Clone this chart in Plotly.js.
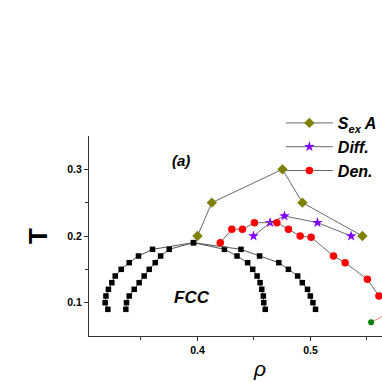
<!DOCTYPE html>
<html><head><meta charset="utf-8">
<script src="https://cdn.plot.ly/plotly-3.0.1.min.js"></script>
<style>html,body{margin:0;padding:0;overflow:hidden;background:#fff;width:382px;height:382px}#c{width:500px;height:382px}</style>
</head><body><div id="c"></div>
<script>
// FCC boundary (two loops sharing the top point)
const fccY = [0.09,0.10,0.11,0.12,0.13,0.14,0.15,0.16,0.17,0.18,0.19,0.18,0.17,0.16,0.15,0.14,0.13,0.12,0.11,0.10,0.09];
const fccOuterX = [0.3207,0.3183,0.3190,0.3212,0.3242,0.3272,0.3325,0.3396,0.3478,0.3602,0.3965,0.4239,0.4350,0.4444,0.4489,0.4528,0.4554,0.4569,0.4583,0.4587,0.4600];
const fccInnerX = [0.3366,0.3372,0.3396,0.3440,0.3484,0.3528,0.3573,0.3626,0.3674,0.3750,0.3965,0.4385,0.4550,0.4720,0.4805,0.4887,0.4928,0.4974,0.4999,0.5022,0.5045];
// S_ex anomaly
const sexX = [0.400,0.4127,0.4752,0.4929,0.546];
const sexY = [0.20,0.25,0.30,0.25,0.20];
// Diffusion anomaly
const diffX = [0.4496,0.4643,0.4770,0.5062,0.5360];
const diffY = [0.20,0.22,0.23,0.22,0.20];
// Density anomaly
const denX = [0.4202,0.4304,0.4398,0.4504,0.4703,0.4805,0.4909,0.5006,0.5204,0.5307,0.5504,0.5606];
const denY = [0.19,0.21,0.21,0.22,0.22,0.21,0.20,0.198,0.17,0.16,0.135,0.11];
// extra series (green point, pink line going off view)
const extraX = [0.5537,0.580];
const extraY = [0.0708,0.093];
const legendNames = ['S<sub>ex</sub> A','Diff.','Den.'];

const gray = '#6a6a6a';
const traces = [
  {x:fccOuterX,y:fccY,mode:'lines+markers',line:{color:'#555',width:1},marker:{symbol:'square',size:5.5,color:'#000'},showlegend:false},
  {x:fccInnerX,y:fccY,mode:'lines+markers',line:{color:'#555',width:1},marker:{symbol:'square',size:5.5,color:'#000'},showlegend:false},
  {x:extraX,y:extraY,mode:'lines+markers',line:{color:'#ff8080',width:1},marker:{symbol:'circle',size:6,color:['#008000','rgba(0,0,0,0)']},showlegend:false},
  {x:sexX,y:sexY,mode:'lines+markers',name:legendNames[0],line:{color:gray,width:1},marker:{symbol:'diamond',size:8,color:'#808000'}},
  {x:diffX,y:diffY,mode:'lines+markers',name:legendNames[1],line:{color:gray,width:1},marker:{symbol:'star',size:8,color:'#8000ff'}},
  {x:denX,y:denY,mode:'lines+markers',name:legendNames[2],line:{color:gray,width:1},marker:{symbol:'circle',size:7.5,color:'#ff0000'}}
];
const layout = {
  width:500,height:382,
  margin:{l:89,r:69,t:136,b:46,autoexpand:false},
  paper_bgcolor:'#fff',plot_bgcolor:'#fff',
  font:{family:'Liberation Sans, Arial, sans-serif',color:'#000'},
  xaxis:{range:[0.304,0.6067],showgrid:false,zeroline:false,showline:true,linecolor:'#333',linewidth:1,
    ticks:'outside',ticklen:4,tickcolor:'#333',tickvals:[0.4,0.5],ticktext:['0.4','0.5'],
    minor:{tickvals:[0.35,0.45,0.55],ticks:'outside',ticklen:3,tickcolor:'#333'},
    tickfont:{size:10.5,weight:'bold'},automargin:true,
    title:{text:'ρ',font:{size:21,style:'italic'},standoff:6}},
  yaxis:{range:[0.05,0.35],showgrid:false,zeroline:false,showline:true,linecolor:'#333',linewidth:1,
    ticks:'outside',ticklen:4,tickcolor:'#333',tickvals:[0.1,0.2,0.3],ticktext:['0.1','0.2','0.3'],
    minor:{tickvals:[0.15,0.25],ticks:'outside',ticklen:3,tickcolor:'#333'},
    tickfont:{size:10.5,weight:'bold'},automargin:true,
    title:{text:'T',font:{size:26,weight:'bold'},standoff:12}},
  legend:{x:0.561,y:1.15,xanchor:'left',yanchor:'top',itemwidth:47,bgcolor:'rgba(0,0,0,0)',font:{size:16,weight:'bold',style:'italic'},tracegroupgap:0},
  annotations:[
    {x:0.3856,y:0.3128,xref:'x',yref:'y',text:'(a)',showarrow:false,font:{size:15,weight:'bold',style:'italic'}},
    {x:0.3949,y:0.108,xref:'x',yref:'y',text:'FCC',showarrow:false,font:{size:17,weight:'bold',style:'italic'}}
  ]
};
Plotly.newPlot('c',traces,layout,{displayModeBar:false,staticPlot:true});
</script></body></html>
